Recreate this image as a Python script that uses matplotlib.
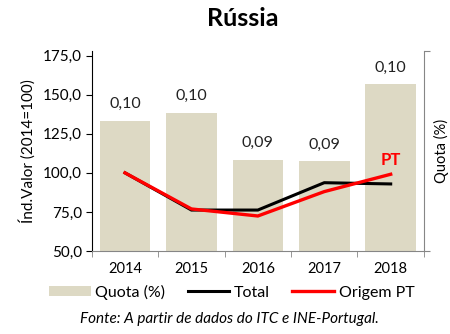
import numpy as np
import matplotlib.pyplot as plt
from matplotlib.patches import Patch
from matplotlib.lines import Line2D

plt.rcParams['font.family'] = ['Lato', 'DejaVu Sans']

anos = ['2014', '2015', '2016', '2017', '2018']
quota = [0.0960, 0.0976, 0.0882, 0.0879, 0.1033]
total = [100.0, 76.2, 76.2, 93.7, 92.9]
origem_pt = [100.0, 76.9, 72.4, 88.0, 99.1]

x = np.arange(len(anos))
grey = '#868686'

fig = plt.figure(figsize=(4.5, 3.34), dpi=100)
ax = fig.add_axes([0.204, 0.2485, 0.738, 0.599])
ax2 = ax.twinx()

# bars on the secondary scale, lines on the index scale
ax2.bar(x, quota, width=0.76, color='#DDD9C4', bottom=0, zorder=1)
ax2.set_ylim(0.07, 0.11)
for xi, q in zip(x, quota):
    ax2.annotate(f'{q:.2f}'.replace('.', ','), (xi, q), xytext=(0, 7),
                 textcoords='offset points', ha='center', va='bottom',
                 fontsize=11.5, color='#222222')

ax.set_zorder(ax2.get_zorder() + 1)
ax.patch.set_visible(False)
ax.plot(x, total, color='black', lw=2.2, solid_joinstyle='miter')
ax.plot(x, origem_pt, color='#FF0000', lw=2.4, solid_joinstyle='miter')
ax.text(4, 108.5, 'PT', color='#FF0000', fontsize=12, fontweight='bold',
        ha='center', va='center')

ax.set_xlim(-0.5, 4.5)
ax.set_ylim(50, 178)
ax.set_yticks(np.arange(50, 176, 25))
ax.set_yticklabels([f'{v:.1f}'.replace('.', ',') for v in np.arange(50, 176, 25)])
ax.set_xticks(x)
ax.set_xticklabels(anos)
ax.set_xticks(np.arange(-0.5, 5, 1), minor=True)
ax.tick_params(axis='x', which='major', length=0, pad=8, labelsize=10.5)
ax.tick_params(axis='x', which='minor', length=4, color=grey, direction='out')
ax.tick_params(axis='y', length=4, color='black', labelsize=11, pad=3)
ax.set_ylabel('Índ.Valor (2014=100)', fontsize=11, labelpad=5)

ax2.set_yticks([0.07, 0.11])
ax2.set_yticklabels([])
ax2.tick_params(axis='y', length=4, color=grey)
ax2.set_ylabel('Quota (%)', fontsize=10.5, labelpad=0)

for a in (ax, ax2):
    a.spines['top'].set_visible(False)
ax.spines['left'].set_color('black')
ax.spines['bottom'].set_color(grey)
ax2.spines['right'].set_color(grey)
ax2.spines['left'].set_visible(False)
ax2.spines['bottom'].set_visible(False)
ax.spines['right'].set_visible(False)

fig.text(0.54, 0.945, 'Rússia', ha='center', va='center',
         fontsize=18, fontweight='bold')

handles = [Patch(facecolor='#DDD9C4'),
           Line2D([], [], color='black', lw=2.2),
           Line2D([], [], color='#FF0000', lw=2.4)]
fig.legend(handles, ['Quota (%)', 'Total', 'Origem PT'], ncol=3,
           loc='center', bbox_to_anchor=(0.515, 0.125), frameon=False,
           fontsize=11.5, handlelength=2.6, handleheight=0.6,
           handletextpad=0.3, columnspacing=1.4)

fig.text(0.51, 0.045, 'Fonte: A partir de dados do ITC e INE-Portugal.',
         ha='center', va='center', fontsize=11, style='italic')

fig.savefig('out.png', dpi=100)
